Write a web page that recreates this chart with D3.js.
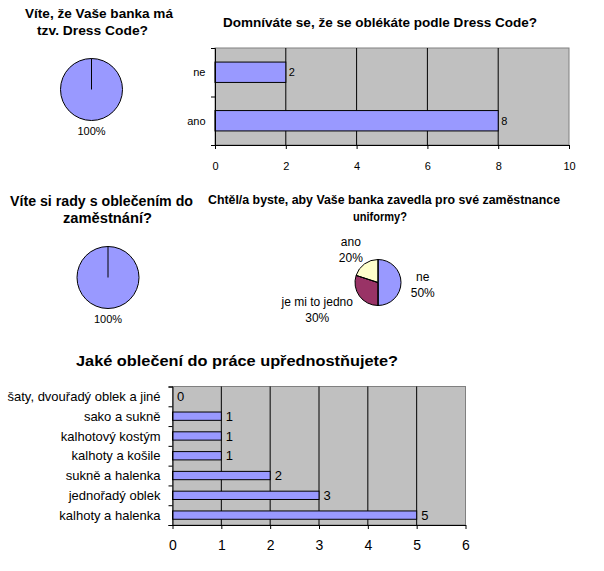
<!DOCTYPE html>
<html>
<head>
<meta charset="utf-8">
<script src="https://cdn.jsdelivr.net/npm/d3@7"></script>
<style>
  body { margin: 0; background: #fff; }
  text { font-family: Arial, "Liberation Sans", sans-serif; }
</style>
</head>
<body>
<div id="chart"></div>
<script>
// Data
var knowsCodeLabels = ["ano"];
var knowsCodeValues = [10];

var followsLabels = ["ne", "ano"];
var followsValues = [2, 8];
var followsTicks = [0, 2, 4, 6, 8, 10];

var adviceLabels = ["ano"];
var adviceValues = [10];

var uniformLabels = ["ne", "je mi to jedno", "ano"];
var uniformValues = [5, 3, 2];

var clothesLabels = ["šaty, dvouřadý oblek a jiné", "sako a sukně", "kalhotový kostým",
  "kalhoty a košile", "sukně a halenka", "jednořadý oblek", "kalhoty a halenka"];
var clothesValues = [0, 1, 1, 1, 2, 3, 5];
var clothesTicks = [0, 1, 2, 3, 4, 5, 6];

var barColor = "#9999FF";
var plotColor = "#C0C0C0";

var svg = d3.select("#chart")
  .append("svg")
  .attr("width", 604)
  .attr("height", 571);

svg.append("rect").attr("width", 604).attr("height", 571).attr("fill", "#fff");

//Bold titles, squeezed to the width they have in the picture
function title(lines, size) {
  lines.forEach(function(l) {
    svg.append("text")
      .attr("x", l.x)
      .attr("y", l.y)
      .attr("font-size", size)
      .attr("font-weight", "bold")
      .attr("textLength", l.w)
      .attr("lengthAdjust", "spacingAndGlyphs")
      .text(l.t);
  });
}

//Horizontal bar chart, categories listed top to bottom
function barChart(o) {
  var g = svg.append("g");
  var x = d3.scaleLinear().domain([0, o.max]).range([o.left, o.right]);
  var y = d3.scaleBand().domain(o.labels).range([o.top, o.bottom])
    .paddingInner(0.58).paddingOuter(0.29);
  var yEdge = d3.scaleLinear().domain([0, o.labels.length]).range([o.top, o.bottom]);

  g.append("rect")
    .attr("x", o.left).attr("y", o.top)
    .attr("width", o.right - o.left).attr("height", o.bottom - o.top)
    .attr("fill", plotColor).attr("stroke", "#808080");

  g.selectAll(".grid")
    .data(o.ticks.filter(function(t) { return t > 0 && t < o.max; }))
    .enter().append("line")
    .attr("x1", function(d) { return x(d); })
    .attr("x2", function(d) { return x(d); })
    .attr("y1", o.top).attr("y2", o.bottom)
    .attr("stroke", "#000");

  g.selectAll(".bar")
    .data(o.values)
    .enter().append("rect")
    .attr("x", x(0))
    .attr("y", function(d, i) { return y(o.labels[i]); })
    .attr("width", function(d) { return x(d) - x(0); })
    .attr("height", y.bandwidth())
    .attr("fill", barColor)
    .attr("stroke", "#000");

  g.selectAll(".val")
    .data(o.values)
    .enter().append("text")
    .attr("x", function(d) { return x(d) + o.valGap; })
    .attr("y", function(d, i) { return y(o.labels[i]) + y.bandwidth() / 2; })
    .attr("dy", "0.35em")
    .attr("font-size", o.font)
    .text(function(d) { return d; });

  g.selectAll(".cat")
    .data(o.labels)
    .enter().append("text")
    .attr("x", o.left - o.labelGap)
    .attr("y", function(d) { return y(d) + y.bandwidth() / 2; })
    .attr("dy", "0.35em")
    .attr("text-anchor", "end")
    .attr("font-size", o.font)
    .text(function(d) { return d; });

  g.append("g")
    .attr("transform", "translate(" + o.left + ",0)")
    .call(d3.axisLeft(yEdge).tickValues(d3.range(o.labels.length + 1)).tickSize(4).tickFormat(""))
    .call(function(a) { a.selectAll("path, line").attr("stroke", "#000"); });

  g.append("g")
    .attr("transform", "translate(0," + o.bottom + ")")
    .call(d3.axisBottom(x).tickValues(o.ticks).tickFormat(d3.format("d"))
      .tickSize(4).tickSizeOuter(0).tickPadding(o.tickPad))
    .call(function(a) {
      a.selectAll("path, line").attr("stroke", "#000");
      a.selectAll("text").attr("font-size", o.tickFont).attr("fill", "#000");
    });
}

//Pie chart starting at 12 o'clock, clockwise
function pieChart(o) {
  var arcs = d3.pie().sort(null)(o.values);
  var arc = d3.arc().innerRadius(0).outerRadius(o.r);
  var total = d3.sum(o.values);
  var g = svg.append("g").attr("transform", "translate(" + o.cx + "," + o.cy + ")");

  g.selectAll("path")
    .data(arcs)
    .enter().append("path")
    .attr("d", arc)
    .attr("fill", function(d, i) { return o.colors[i]; })
    .attr("stroke", "#000");

  // radial edge at each slice start (a whole-circle slice draws none itself)
  g.selectAll("line")
    .data(arcs)
    .enter().append("line")
    .attr("x2", function(d) { return o.r * Math.sin(d.startAngle); })
    .attr("y2", function(d) { return -o.r * Math.cos(d.startAngle); })
    .attr("stroke", "#000");

  arcs.forEach(function(d, i) {
    var pct = Math.round(d.value / total * 100) + "%";
    if (arcs.length === 1) {
      g.append("text")
        .attr("y", o.r + 14)
        .attr("text-anchor", "middle")
        .attr("font-size", 11)
        .text(pct);
      return;
    }
    var a = (d.startAngle + d.endAngle) / 2;
    var lr = o.r * 1.85;
    var dx = lr * Math.sin(a), dy = -lr * Math.cos(a);
    var t = g.append("text").attr("text-anchor", "middle").attr("font-size", 12);
    t.append("tspan").attr("x", 0).attr("y", 0).text(o.labels[i]);
    t.append("tspan").attr("x", 0).attr("dy", 16).text(pct);
    var w = t.node().getBBox().width;
    var shift = Math.abs(dx) > 1 ? Math.sign(dx) * Math.max(0, w / 2 - 10) : 0;
    t.attr("transform", "translate(" + (dx + shift) + "," + (dy - 2) + ")");
  });
}

title([{ t: "Víte, že Vaše banka má", x: 25, y: 18, w: 148 },
       { t: "tzv. Dress Code?", x: 37, y: 35, w: 111 }], 13);
pieChart({ values: knowsCodeValues, labels: knowsCodeLabels, colors: [barColor],
  cx: 91.5, cy: 89.5, r: 31 });

title([{ t: "Domníváte se, že se oblékáte podle Dress Code?", x: 223, y: 27, w: 314 }], 12);
barChart({ labels: followsLabels, values: followsValues, ticks: followsTicks, max: 10,
  left: 215, right: 569, top: 48, bottom: 145, font: 11, tickFont: 11, tickPad: 13, labelGap: 9.5, valGap: 3 });

title([{ t: "Víte si rady s oblečením do", x: 10, y: 206, w: 183 },
       { t: "zaměstnání?", x: 63, y: 223, w: 89 }], 14);
pieChart({ values: adviceValues, labels: adviceLabels, colors: [barColor],
  cx: 108, cy: 277.5, r: 31 });

title([{ t: "Chtěl/a byste, aby Vaše banka zavedla pro své zaměstnance", x: 208, y: 204, w: 352 },
       { t: "uniformy?", x: 353, y: 221, w: 54 }], 13);
pieChart({ values: uniformValues, labels: uniformLabels, colors: [barColor, "#993366", "#FFFFCC"],
  cx: 378, cy: 282.5, r: 23 });

title([{ t: "Jaké oblečení do práce upřednostňujete?", x: 76, y: 366, w: 322 }], 14);
barChart({ labels: clothesLabels, values: clothesValues, ticks: clothesTicks, max: 6,
  left: 172.5, right: 465.5, top: 386.5, bottom: 525, font: 13, tickFont: 14, tickPad: 11, labelGap: 12, valGap: 4.5 });
</script>
</body>
</html>
